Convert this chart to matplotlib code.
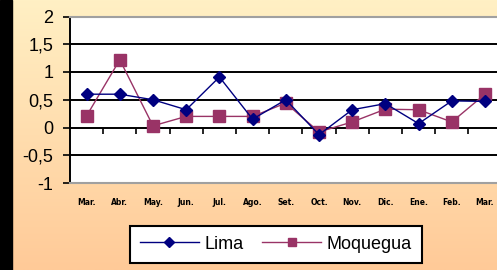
import matplotlib
matplotlib.use("agg")
import numpy as np
import matplotlib.pyplot as plt
from matplotlib.colors import LinearSegmentedColormap
from matplotlib.patches import Rectangle
from matplotlib.ticker import FuncFormatter, FixedLocator

plt.rcParams["axes.unicode_minus"] = False
plt.rcParams["font.family"] = ["Liberation Sans", "DejaVu Sans"]

months = ["Mar.", "Abr.", "May.", "Jun.", "Jul.", "Ago.", "Set.",
          "Oct.", "Nov.", "Dic.", "Ene.", "Feb.", "Mar."]
lima = [0.6, 0.6, 0.5, 0.32, 0.91, 0.15, 0.5, -0.13, 0.32, 0.43, 0.07, 0.48, 0.47]
moquegua = [0.21, 1.22, 0.03, 0.2, 0.2, 0.2, 0.44, -0.08, 0.1, 0.33, 0.32, 0.1, 0.6]


def main():
    fig = plt.figure(figsize=(4.97, 2.70), dpi=100)

    # gradient background + black strip on the left
    bg = fig.add_axes([0, 0, 1, 1], zorder=-10)
    cmap = LinearSegmentedColormap.from_list("bg", ["#fff0c4", "#ffca98"])
    bg.imshow(np.linspace(0, 1, 256).reshape(-1, 1), aspect="auto",
              cmap=cmap, extent=[0, 1, 0, 1], origin="upper")
    bg.set_axis_off()
    fig.patches.append(Rectangle((0, 0), 11.5 / 497, 1, transform=fig.transFigure,
                                 color="black", zorder=-5))

    ax = fig.add_axes([70 / 497, 1 - 183 / 270, 431.6 / 497, 166.5 / 270])
    ax.set_facecolor("white")
    x = np.arange(len(months))

    ax.plot(x, lima, color="#000080", lw=1.0, marker="D", ms=6.5,
            mec="#000080", mfc="#000080", label="Lima", zorder=4)
    ax.plot(x, moquegua, color="#993366", lw=1.0, marker="s", ms=8,
            mec="#993366", mfc="#993366", label="Moquegua", zorder=3)

    ax.set_xlim(-0.5, len(months) - 0.5)
    ax.set_ylim(-1, 2)
    ax.set_yticks(np.arange(-1, 2.01, 0.5))
    ax.yaxis.set_major_formatter(FuncFormatter(lambda v, p: ("%g" % v).replace(".", ",")))
    ax.tick_params(axis="y", length=5, width=1.2, pad=7, labelsize=13, direction="out")
    for v in [-0.5, 0.5, 1.0, 1.5]:
        ax.axhline(v, color="black", lw=1.4, zorder=1)

    ax.set_xticks(x)
    ax.set_xticklabels(months, fontsize=5.5, fontweight="bold", family="DejaVu Sans")
    ax.tick_params(axis="x", length=0, pad=11)

    # category axis crossing at zero
    sec = ax.secondary_xaxis(1 / 3)
    sec.xaxis.set_major_locator(FixedLocator(x[:-1] + 0.5))
    sec.set_xticklabels([])
    sec.tick_params(axis="x", length=4, width=1.2, direction="out")
    sec.spines["bottom"].set_linewidth(1.4)

    ax.spines["left"].set_linewidth(1.4)
    ax.spines["right"].set_visible(False)
    for s in ["top", "bottom"]:
        ax.spines[s].set_color("#a0a0a0")
        ax.spines[s].set_linewidth(1.5)

    leg = fig.legend(loc="center", bbox_to_anchor=(0.555, 0.096), ncol=2,
                     fontsize=13, fancybox=False, edgecolor="black", framealpha=1,
                     handlelength=3.3, columnspacing=1.0, handletextpad=0.3,
                     borderpad=0.55, markerscale=0.8)
    leg.get_frame().set_linewidth(1.5)

    fig.savefig("out.png", dpi=100)


if __name__ == "__main__":
    main()
